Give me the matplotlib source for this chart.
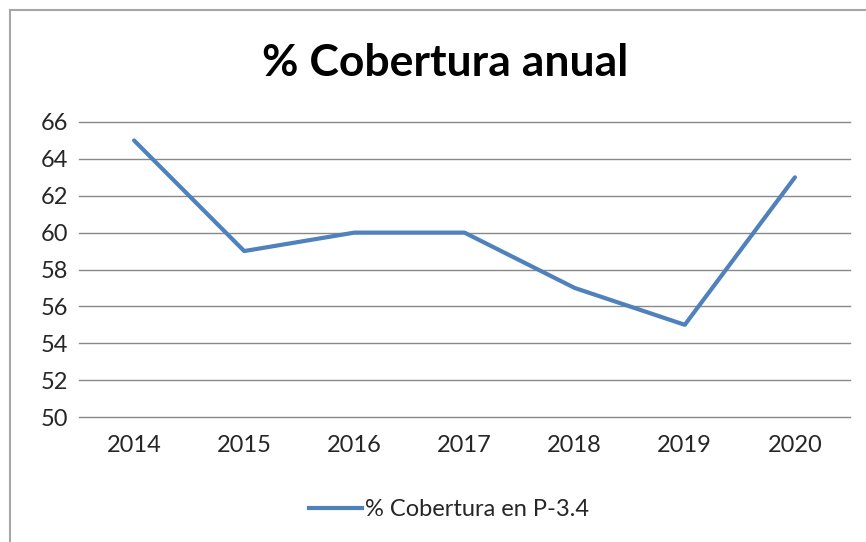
import matplotlib
matplotlib.use("Agg")
import matplotlib.pyplot as plt
from matplotlib.lines import Line2D

years = ["2014", "2015", "2016", "2017", "2018", "2019", "2020"]
cobertura = [65, 59, 60, 60, 57, 55, 63]
yticks = [50, 52, 54, 56, 58, 60, 62, 64, 66]

W, H = 866, 542
plt.rcParams['font.family'] = ['Lato', 'DejaVu Sans']
fig = plt.figure(figsize=(W/100, H/100), dpi=100)
ax = fig.add_axes([79/W, 1-417/H, (850-79)/W, (417-122)/H])

x = list(range(len(years)))
ax.plot(x, cobertura, color='#4F81BD', lw=3, solid_capstyle='round', label='% Cobertura en P-3.4')
ax.set_xlim(-0.5, len(years)-0.5)
ax.set_ylim(50, 66)
ax.set_yticks(yticks)
ax.set_xticks(x)
ax.set_xticklabels(years)
ax.yaxis.grid(True, color='#898989', lw=1)
for gl in ax.get_ygridlines():
    gl.set_clip_on(False)
ax.set_axisbelow(True)
for s in ax.spines.values():
    s.set_visible(False)
ax.tick_params(length=0, labelsize=17, labelcolor='#262626')
ax.tick_params(axis='x', pad=13)
ax.tick_params(axis='y', pad=8)

fig.text(445/W, 1-63/H, '% Cobertura anual', ha='center', va='center',
         fontsize=32, fontweight='bold', color='black')

leg = fig.legend(handles=[Line2D([0], [0], color='#4F81BD', lw=3)], labels=['% Cobertura en P-3.4'],
                 loc='center', bbox_to_anchor=(449/W, 1-510/H), frameon=False,
                 fontsize=17, handlelength=2.25, handletextpad=0.15)
for t in leg.get_texts():
    t.set_color('#262626')

fig.add_artist(Line2D([10/W, 1], [1-10/H, 1-10/H], color='#A6A6A6', lw=1.5, transform=fig.transFigure))
fig.add_artist(Line2D([10/W, 10/W], [0, 1-10/H], color='#A6A6A6', lw=1.5, transform=fig.transFigure))

fig.savefig('out.png', dpi=100)
